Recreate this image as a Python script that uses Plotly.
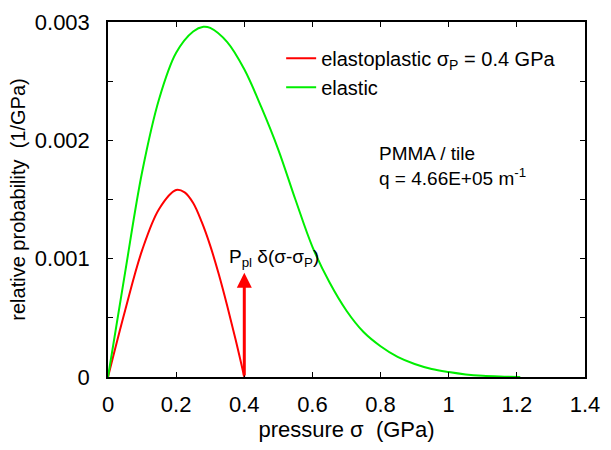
import plotly.graph_objects as go

# data
elastic_x = [0, 0.05, 0.1, 0.15, 0.2, 0.25, 0.28, 0.3, 0.35, 0.4, 0.45, 0.5, 0.55, 0.6,
             0.65, 0.7, 0.75, 0.8, 0.85, 0.9, 0.95, 1.0, 1.05, 1.1, 1.15, 1.21]
elastic_y = [0, 0.00088, 0.00173, 0.00235, 0.00274, 0.00292, 0.00296, 0.00295, 0.00283,
             0.00260, 0.00228, 0.00192, 0.00150, 0.00110, 0.00080, 0.00056, 0.00038,
             0.00026, 0.00017, 0.00011, 0.000068, 0.000042, 0.000022, 0.00001, 0.000004, 0.0]

plastic_x = [0, 0.05, 0.1, 0.15, 0.2, 0.225, 0.25, 0.275, 0.3, 0.325, 0.35, 0.375, 0.4]
plastic_y = [0, 0.00056, 0.00107, 0.00142, 0.00158, 0.00156, 0.00147, 0.00131, 0.00111,
             0.00087, 0.00060, 0.00031, 0.0]

sigma_p = 0.4
delta_height = 0.00088

x_ticks = [0, 0.2, 0.4, 0.6, 0.8, 1.0, 1.2, 1.4]
x_labels = ["0", "0.2", "0.4", "0.6", "0.8", "1", "1.2", "1.4"]
y_ticks = [0, 0.001, 0.002, 0.003]
y_labels = ["0", "0.001", "0.002", "0.003"]

FONT = "Liberation Sans"

fig = go.Figure()
fig.add_trace(go.Scatter(x=plastic_x, y=plastic_y, mode="lines",
                         line=dict(color="#ff0000", width=2, shape="spline"),
                         name="elastoplastic σ<sub>P</sub> = 0.4 GPa"))
fig.add_trace(go.Scatter(x=elastic_x, y=elastic_y, mode="lines",
                         line=dict(color="#00ee00", width=2, shape="spline"),
                         name="elastic"))

fig.add_annotation(x=sigma_p, y=delta_height, ax=sigma_p, ay=0, xref="x", yref="y",
                   axref="x", ayref="y", showarrow=True, arrowhead=2, arrowsize=1,
                   arrowwidth=3, arrowcolor="#ff0000", text="")
fig.add_annotation(x=0.487, y=0.001005, xref="x", yref="y", showarrow=False,
                   text="P<sub>pl</sub> δ(σ-σ<sub>P</sub>)",
                   font=dict(family=FONT, size=19, color="black"))
fig.add_annotation(x=(377 - 108) / 477, y=(377 - 159) / 367, xref="paper", yref="paper",
                   showarrow=False,
                   text="PMMA / tile<br>q = 4.66E+05 m<sup>-1</sup>", align="left",
                   xanchor="left", yanchor="middle",
                   font=dict(family=FONT, size=19, color="black"))

fig.update_layout(
    width=611, height=450,
    margin=dict(l=108, r=26, t=10, b=73),
    paper_bgcolor="white", plot_bgcolor="white",
    font=dict(family=FONT, size=21, color="black"),
    showlegend=True,
    legend=dict(x=0.363, y=0.953, xanchor="left", yanchor="top",
                bgcolor="rgba(0,0,0,0)", font=dict(family=FONT, size=20),
                tracegroupgap=0),
)
fig.update_xaxes(range=[0, 1.4], tickvals=x_ticks, ticktext=x_labels,
                 tickfont=dict(family=FONT, size=22), ticklabeloverflow="allow",
                 showline=True, linecolor="black", linewidth=1.5, mirror="allticks",
                 ticks="inside", ticklen=5, tickcolor="black", showgrid=False,
                 zeroline=False, ticklabelstandoff=7,
                 title=dict(text="pressure σ\u00a0 (GPa)", standoff=3,
                            font=dict(family=FONT, size=22)))
fig.update_yaxes(range=[0, 0.003], tickvals=y_ticks, ticktext=y_labels,
                 tickfont=dict(family=FONT, size=22), ticklabeloverflow="allow",
                 showline=True, linecolor="black", linewidth=1.5, mirror="allticks",
                 ticks="inside", ticklen=5, tickcolor="black", showgrid=False,
                 zeroline=False, ticklabelstandoff=12,
                 minor=dict(tickvals=[0.0005, 0.0015, 0.0025], ticks="inside",
                            ticklen=5, tickcolor="black"),
                 title=dict(text="relative probability\u00a0 (1/GPa)", standoff=4,
                            font=dict(family=FONT, size=20)))

fig.write_html("out.html")
